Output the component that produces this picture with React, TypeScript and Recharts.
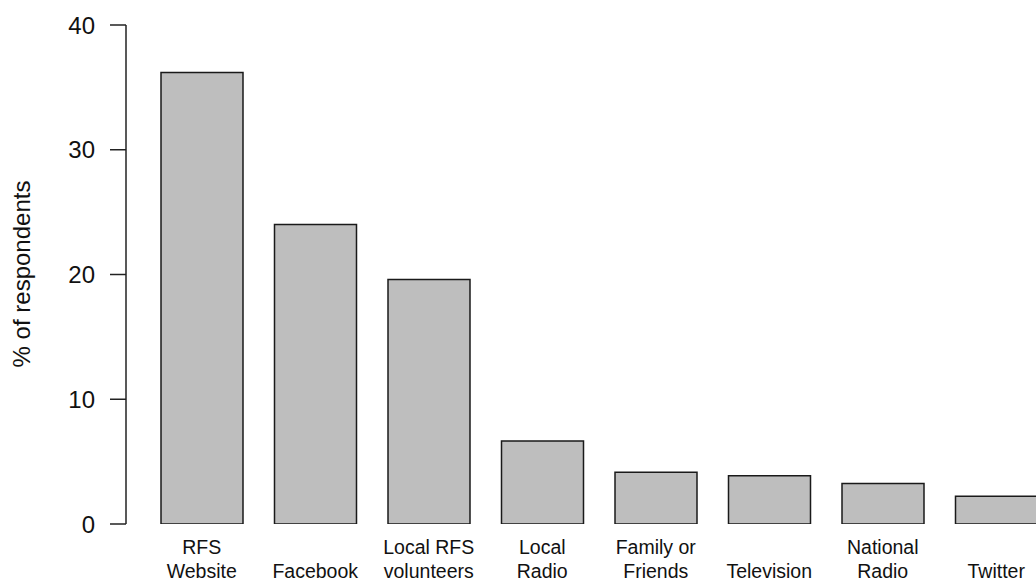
import React from "react";
import { BarChart, Bar, XAxis, YAxis } from "recharts";

const categories = [
  "RFS\nWebsite",
  "Facebook",
  "Local RFS\nvolunteers",
  "Local\nRadio",
  "Family or\nFriends",
  "Television",
  "National\nRadio",
  "Twitter",
];
const percentages = [36.2, 24.0, 19.6, 6.65, 4.15, 3.87, 3.25, 2.22];
const yTicks = [0, 10, 20, 30, 40];

const data = categories.map((c, i) => ({ name: c, value: percentages[i] }));

const FONT = "'Liberation Sans', Arial, sans-serif";

const XTick = (props: any) => {
  const { x, y, payload } = props;
  const lines = String(payload.value).split("\n");
  const base2 = y + 54;
  const base1 = y + 30;
  return (
    <g>
      {lines.length === 1 ? (
        <text x={x} y={base2} textAnchor="middle" fontSize={19.5} fill="#111" fontFamily={FONT}>
          {lines[0]}
        </text>
      ) : (
        lines.map((l, i) => (
          <text key={i} x={x} y={i === 0 ? base1 : base2} textAnchor="middle" fontSize={19.5} fill="#111" fontFamily={FONT}>
            {l}
          </text>
        ))
      )}
    </g>
  );
};

const YLabel = () => (
  <text
    x={21}
    y={274}
    transform="rotate(-90, 21, 274)"
    textAnchor="middle"
    dominantBaseline="central"
    fontSize={24}
    fill="#111"
    fontFamily={FONT}
  >
    % of respondents
  </text>
);

export default function App() {
  return (
    <div style={{ position: "absolute", left: 0, top: 0, width: 1036, height: 582, overflow: "hidden", background: "#fff" }}>
      <BarChart
        width={1053}
        height={582}
        data={data}
        margin={{ top: 25, right: 0, left: 0, bottom: 0 }}
      >
        <XAxis
          dataKey="name"
          axisLine={false}
          tickLine={false}
          tickSize={0}
          tickMargin={0}
          height={58}
          interval={0}
          padding={{ left: 19, right: 0 }}
          tick={<XTick />}
        />
        <YAxis
          width={126}
          domain={[0, 40]}
          ticks={yTicks}
          type="number"
          allowDataOverflow
          tickSize={16}
          tickMargin={15}
          axisLine={{ stroke: "#222", strokeWidth: 1.5 }}
          tickLine={{ stroke: "#222", strokeWidth: 1.5 }}
          tick={{ fontSize: 24, fill: "#111", fontFamily: FONT }}
          label={<YLabel />}
        />
        <Bar
          dataKey="value"
          fill="#BEBEBE"
          stroke="#1a1a1a"
          strokeWidth={1.5}
          barSize={82}
          isAnimationActive={false}
        />
      </BarChart>
    </div>
  );
}
